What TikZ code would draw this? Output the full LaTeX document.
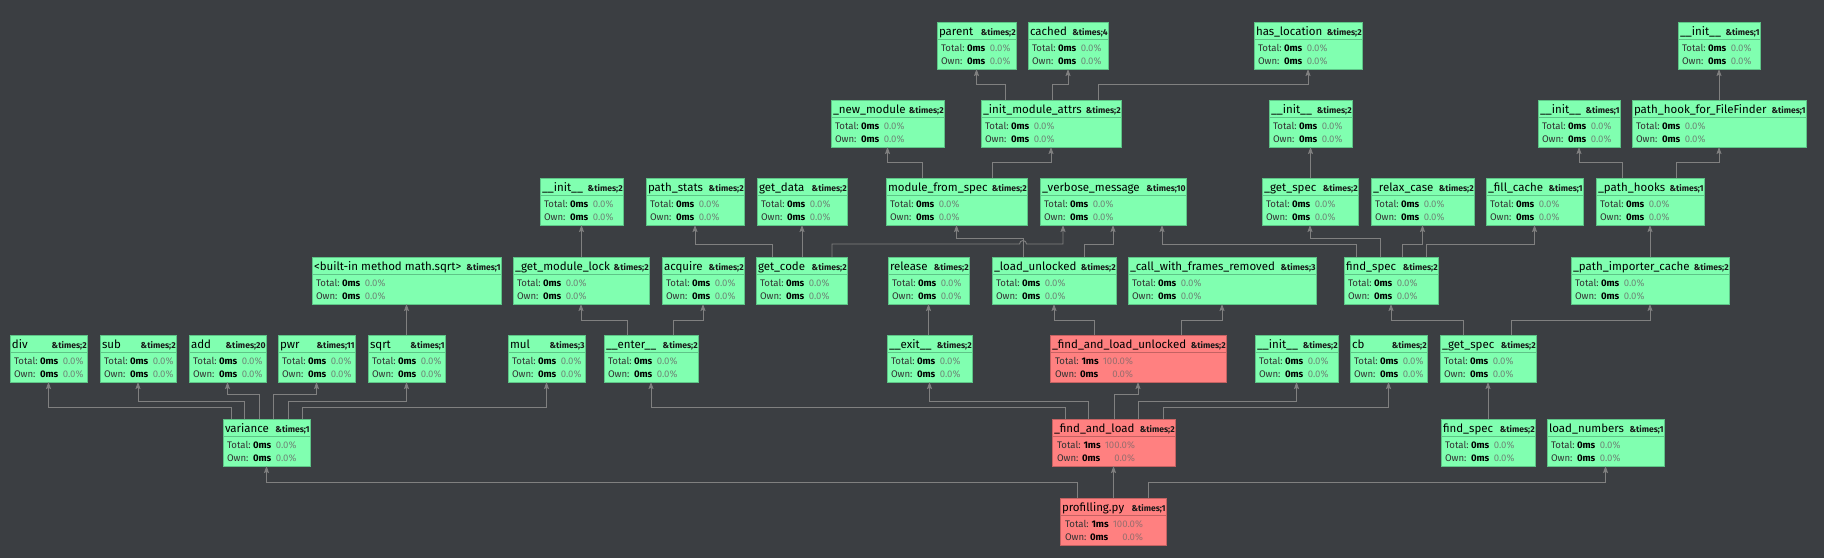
\documentclass[tikz,border=0pt]{standalone}
\usepackage{fontspec}
\setmainfont{Fira Sans}
\usetikzlibrary{arrows.meta}
\definecolor{bgc}{HTML}{3B3E42}
\definecolor{gfill}{HTML}{80FFB0}
\definecolor{gline}{HTML}{5EC487}
\definecolor{rfill}{HTML}{FF8080}
\definecolor{rline}{HTML}{C46262}
\definecolor{edgec}{HTML}{808080}
\definecolor{gpctc}{HTML}{6E8A78}
\definecolor{rpctc}{HTML}{9A6E6E}
\tikzset{
  gbox/.style={rectangle, draw=gline, fill=gfill, line width=0.8pt, inner sep=0pt, outer sep=0pt, minimum height=47pt},
  rbox/.style={rectangle, draw=rline, fill=rfill, line width=0.8pt, inner sep=0pt, outer sep=0pt, minimum height=47pt},
  gsep/.style={draw=gline, line width=0.8pt},
  rsep/.style={draw=rline, line width=0.8pt},
  ttl/.style={anchor=base west, inner sep=0pt, outer sep=0pt, text=black, font=\fontsize{11.5}{13}\selectfont},
  cnt/.style={anchor=base east, inner sep=0pt, outer sep=0pt, text=black!90, font=\fontsize{8.6}{10}\selectfont\bfseries},
  lab/.style={anchor=base west, inner sep=0pt, outer sep=0pt, text=black!80, font=\fontsize{9.6}{11}\selectfont},
  val/.style={anchor=base west, inner sep=0pt, outer sep=0pt, text=black, font=\fontsize{9.6}{11}\selectfont\bfseries},
  gpct/.style={anchor=base east, inner sep=0pt, outer sep=0pt, text=gpctc, font=\fontsize{9.6}{11}\selectfont},
  rpct/.style={anchor=base east, inner sep=0pt, outer sep=0pt, text=rpctc, font=\fontsize{9.6}{11}\selectfont},
  edge/.style={draw=edgec, line width=0.9pt, -{Stealth[length=7pt,width=5pt,inset=1.2pt]}},
}
% green node: id, left, top, right, title, count
\newcommand\gnode[6]{%
  \node[gbox, minimum width={#4pt-#2pt}, anchor=north west] (#1) at (#2,#3) {};
  \draw[gsep] ([yshift=-17pt]#1.north west) -- ([yshift=-17pt]#1.north east);
  \node[ttl] (#1-t) at ([xshift=2pt,yshift=-13.5pt]#1.north west) {#5};
  \node[cnt] (#1-c) at ([xshift=-0.3pt,yshift=-13.5pt]#1.north east) {\&times;#6};
  \node[lab] (#1-l1) at ([xshift=4pt,yshift=-29.5pt]#1.north west) {Total:};
  \node[val] (#1-v1) at ([xshift=30pt,yshift=-29.5pt]#1.north west) {0ms};
  \node[gpct] (#1-p1) at ([xshift=73.5pt,yshift=-29.5pt]#1.north west) {0.0\%};
  \node[lab] (#1-l2) at ([xshift=4pt,yshift=-42.5pt]#1.north west) {Own:};
  \node[val] (#1-v2) at ([xshift=30pt,yshift=-42.5pt]#1.north west) {0ms};
  \node[gpct] (#1-p2) at ([xshift=73.5pt,yshift=-42.5pt]#1.north west) {0.0\%};
}
% red node: id, left, top, right, title, count
\newcommand\rnode[6]{%
  \node[rbox, minimum width={#4pt-#2pt}, anchor=north west] (#1) at (#2,#3) {};
  \draw[rsep] ([yshift=-17pt]#1.north west) -- ([yshift=-17pt]#1.north east);
  \node[ttl] (#1-t) at ([xshift=2pt,yshift=-13.5pt]#1.north west) {#5};
  \node[cnt] (#1-c) at ([xshift=-0.3pt,yshift=-13.5pt]#1.north east) {\&times;#6};
  \node[lab] (#1-l1) at ([xshift=5pt,yshift=-29.5pt]#1.north west) {Total:};
  \node[val] (#1-v1) at ([xshift=31.5pt,yshift=-29.5pt]#1.north west) {1ms};
  \node[rpct] (#1-p1) at ([xshift=83pt,yshift=-29.5pt]#1.north west) {100.0\%};
  \node[lab] (#1-l2) at ([xshift=5pt,yshift=-42.5pt]#1.north west) {Own:};
  \node[val] (#1-v2) at ([xshift=30pt,yshift=-42.5pt]#1.north west) {0ms};
  \node[rpct] (#1-p2) at ([xshift=83pt,yshift=-42.5pt]#1.north west) {0.0\%};
}
\begin{document}
\begin{tikzpicture}[x=1pt,y=-1pt]
\fill[bgc] (0,0) rectangle (1824,558);
\useasboundingbox (0,0) rectangle (1824,558);
% row 0
\gnode{parent}{937}{22}{1016}{parent}{2}
\gnode{cached}{1028}{22}{1108}{cached}{4}
\gnode{hasloc}{1254}{22}{1362}{has\_location}{2}
\gnode{initA}{1678}{22}{1760}{\_\_init\_\_}{1}
% row 1
\gnode{newmod}{831}{100}{944}{\_new\_module}{2}
\gnode{ima}{981}{100}{1121}{\_init\_module\_attrs}{2}
\gnode{initB}{1269}{100}{1352}{\_\_init\_\_}{2}
\gnode{initC}{1538}{100}{1620}{\_\_init\_\_}{1}
\gnode{phff}{1632}{100}{1806}{path\_hook\_for\_FileFinder}{1}
% row 2
\gnode{initD}{540}{178}{623}{\_\_init\_\_}{2}
\gnode{pstats}{646}{178}{744}{path\_stats}{2}
\gnode{gdata}{757}{178}{847}{get\_data}{2}
\gnode{mfs}{886}{178}{1027}{module\_from\_spec}{2}
\gnode{vm}{1040}{178}{1186}{\_verbose\_message}{10}
\gnode{gspecA}{1262}{178}{1358}{\_get\_spec}{2}
\gnode{relax}{1371}{178}{1474}{\_relax\_case}{2}
\gnode{fill}{1486}{178}{1583}{\_fill\_cache}{1}
\gnode{phooks}{1596}{178}{1704}{\_path\_hooks}{1}
% row 3
\gnode{bsqrt}{312}{257}{501}{<built-in method math.sqrt>}{1}
\gnode{gml}{513}{257}{649}{\_get\_module\_lock}{2}
\gnode{acq}{662}{257}{744}{acquire}{2}
\gnode{gcode}{756}{257}{847}{get\_code}{2}
\gnode{rel}{888}{257}{969}{release}{2}
\gnode{lu}{992}{257}{1116}{\_load\_unlocked}{2}
\gnode{cwfr}{1128}{257}{1316}{\_call\_with\_frames\_removed}{3}
\gnode{fspecA}{1344}{257}{1438}{find\_spec}{2}
\gnode{pic}{1571}{257}{1729}{\_path\_importer\_cache}{2}
% row 4
\gnode{div}{10}{335}{87}{div}{2}
\gnode{sub}{100}{335}{176}{sub}{2}
\gnode{add}{189}{335}{266}{add}{20}
\gnode{pwr}{278}{335}{355}{pwr}{11}
\gnode{sqrt}{368}{335}{445}{sqrt}{1}
\gnode{mul}{508}{335}{585}{mul}{3}
\gnode{enter}{604}{335}{698}{\_\_enter\_\_}{2}
\gnode{exit}{887}{335}{972}{\_\_exit\_\_}{2}
\rnode{falu}{1050}{335}{1226}{\_find\_and\_load\_unlocked}{2}
\gnode{initE}{1255}{335}{1338}{\_\_init\_\_}{2}
\gnode{cb}{1350}{335}{1427}{cb}{2}
\gnode{gspecB}{1440}{335}{1536}{\_get\_spec}{2}
% row 5
\gnode{var}{223}{419}{310}{variance}{1}
\rnode{fal}{1052}{419}{1175}{\_find\_and\_load}{2}
\gnode{fspecB}{1441}{419}{1535}{find\_spec}{2}
\gnode{ln}{1547}{419}{1664}{load\_numbers}{1}
% row 6
\rnode{prof}{1060}{498}{1166}{profilling.py}{1}
% edges
\draw[edge] ([xshift=17pt]prof.north west) -- ++(0,-16) -| (var.south);
\draw[edge] (fal.south |- prof.north) -- (fal.south);
\draw[edge] ([xshift=88pt]prof.north west) -- ++(0,-16) -| (ln.south);
\draw[edge] ([xshift=8pt]var.north west) -- ++(0,-12) -| (div.south);
\draw[edge] ([xshift=21pt]var.north west) -- ++(0,-18) -| (sub.south);
\draw[edge] ([xshift=36pt]var.north west) -- ++(0,-25) -| (add.south);
\draw[edge] ([xshift=50pt]var.north west) -- ++(0,-25) -| (pwr.south);
\draw[edge] ([xshift=65pt]var.north west) -- ++(0,-18) -| (sqrt.south);
\draw[edge] ([xshift=79pt]var.north west) -- ++(0,-12) -| (mul.south);
\draw[edge] (bsqrt.south |- sqrt.north) -- (bsqrt.south);
\draw[edge] ([xshift=13pt]fal.north west) -- ++(0,-12) -| (enter.south);
\draw[edge] ([xshift=36pt]fal.north west) -- ++(0,-18) -| (exit.south);
\draw[edge] ([xshift=62pt]fal.north west) -- ++(0,-25) -| (falu.south);
\draw[edge] ([xshift=86pt]fal.north west) -- ++(0,-18) -| (initE.south);
\draw[edge] ([xshift=111pt]fal.north west) -- ++(0,-12) -| (cb.south);
\draw[edge] (gspecB.south |- fspecB.north) -- (gspecB.south);
\draw[edge] ([xshift=23pt]enter.north west) -- ++(0,-15) -| (gml.south);
\draw[edge] ([xshift=69pt]enter.north west) -- ++(0,-15) -| (acq.south);
\draw[edge] (rel.south |- exit.north) -- (rel.south);
\draw[edge] ([xshift=44pt]falu.north west) -- ++(0,-15) -| (lu.south);
\draw[edge] ([xshift=131pt]falu.north west) -- ++(0,-15) -| (cwfr.south);
\draw[edge] ([xshift=23pt]gspecB.north west) -- ++(0,-15) -| (fspecA.south);
\draw[edge] ([xshift=71pt]gspecB.north west) -- ++(0,-15) -| (pic.south);
\draw[edge] (initD.south |- gml.north) -- (initD.south);
\draw[edge] ([xshift=16pt]gcode.north west) -- ++(0,-13) -| (pstats.south);
\draw[edge] (gdata.south |- gcode.north) -- (gdata.south);
\draw[edge] ([xshift=76pt]gcode.north west) -- ++(0,-13) -- ([xshift=27.5pt,yshift=13pt]lu.north west) arc[start angle=180,end angle=0,radius=3.5pt] -| ([xshift=23pt]vm.south west);
\draw[edge] ([xshift=31pt]lu.north west) -- ++(0,-19) -| (mfs.south);
\draw[edge] ([xshift=92pt]lu.north west) -- ++(0,-13) -| (vm.south);
\draw[edge] ([xshift=12pt]fspecA.north west) -- ++(0,-13) -| ([xshift=122pt]vm.south west);
\draw[edge] ([xshift=36pt]fspecA.north west) -- ++(0,-19) -| (gspecA.south);
\draw[edge] ([xshift=58pt]fspecA.north west) -- ++(0,-13) -| (relax.south);
\draw[edge] ([xshift=82pt]fspecA.north west) -- ++(0,-13) -| (fill.south);
\draw[edge] (phooks.south |- pic.north) -- (phooks.south);
\draw[edge] ([xshift=36pt]mfs.north west) -- ++(0,-16) -| (newmod.south);
\draw[edge] ([xshift=106pt]mfs.north west) -- ++(0,-16) -| (ima.south);
\draw[edge] (initB.south |- gspecA.north) -- (initB.south);
\draw[edge] ([xshift=26pt]phooks.north west) -- ++(0,-16) -| (initC.south);
\draw[edge] ([xshift=80pt]phooks.north west) -- ++(0,-16) -| (phff.south);
\draw[edge] ([xshift=24pt]ima.north west) -- ++(0,-16) -| (parent.south);
\draw[edge] ([xshift=71pt]ima.north west) -- ++(0,-16) -| (cached.south);
\draw[edge] ([xshift=117pt]ima.north west) -- ++(0,-16) -| (hasloc.south);
\draw[edge] (initA.south |- phff.north) -- (initA.south);
\end{tikzpicture}
\end{document}
